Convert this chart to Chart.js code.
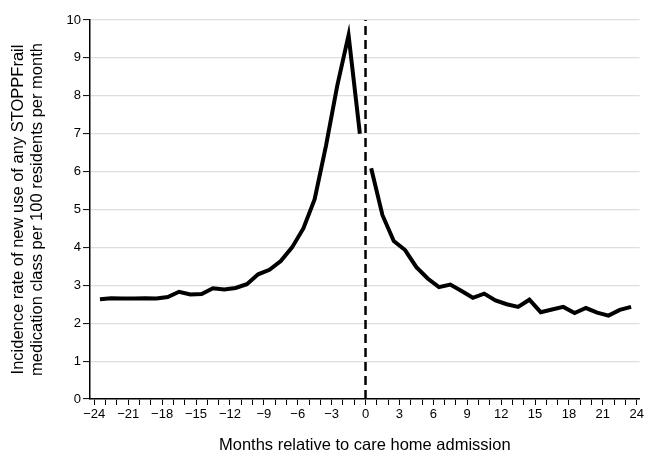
<!DOCTYPE html>
<html>
<head>
<meta charset="utf-8">
<script src="https://cdn.jsdelivr.net/npm/chart.js@4/dist/chart.umd.min.js"></script>
<style>
html,body{margin:0;padding:0;background:#fff;}
#wrap{width:646px;height:455px;position:relative;}
</style>
</head>
<body>
<div id="wrap"><canvas id="c" width="646" height="455"></canvas></div>
<script>
// Months relative to admission (mid-month points)
const preMonths = [-23.5,-22.5,-21.5,-20.5,-19.5,-18.5,-17.5,-16.5,-15.5,-14.5,-13.5,-12.5,-11.5,-10.5,-9.5,-8.5,-7.5,-6.5,-5.5,-4.5,-3.5,-2.5,-1.5,-0.5];
const preRates = [2.63,2.66,2.65,2.65,2.66,2.65,2.69,2.83,2.76,2.77,2.92,2.89,2.93,3.03,3.29,3.41,3.64,4.0,4.5,5.27,6.68,8.27,9.6,7.0];
const postMonths = [0.5,1.5,2.5,3.5,4.5,5.5,6.5,7.5,8.5,9.5,10.5,11.5,12.5,13.5,14.5,15.5,16.5,17.5,18.5,19.5,20.5,21.5,22.5,23.5];
const postRates = [6.09,4.85,4.17,3.93,3.48,3.18,2.95,3.02,2.85,2.67,2.78,2.6,2.5,2.43,2.62,2.29,2.36,2.43,2.27,2.40,2.28,2.20,2.35,2.43];
const xTicks = [];
for (let m = -24; m <= 24; m++) xTicks.push(m);
const yTicks = [0,1,2,3,4,5,6,7,8,9,10];
const admissionMonth = 0;
const xTitle = 'Months relative to care home admission';
const yTitle = ['Incidence rate of new use of any STOPPFrail', 'medication class per 100 residents per month'];

const toXY = (xs, ys) => xs.map((x, i) => ({x: x, y: ys[i]}));
const fontFam = '"Liberation Sans", Arial, sans-serif';

new Chart(document.getElementById('c'), {
  type: 'line',
  data: {
    datasets: [
      {data: toXY(preMonths, preRates), borderColor: '#000', borderWidth: 4, pointRadius: 0, tension: 0, borderJoinStyle: 'miter'},
      {data: toXY(postMonths, postRates), borderColor: '#000', borderWidth: 4, pointRadius: 0, tension: 0, borderJoinStyle: 'miter'},
      {data: [{x: admissionMonth, y: yTicks[0]}, {x: admissionMonth, y: yTicks[yTicks.length-1]}], borderColor: '#000', borderWidth: 2.5, borderDash: [9,5], pointRadius: 0}
    ]
  },
  options: {
    responsive: false,
    animation: false,
    layout: {padding: {top: 20, right: 4, left: 9, bottom: 0}},
    plugins: {legend: {display: false}, tooltip: {enabled: false}},
    scales: {
      x: {
        type: 'linear',
        min: -24.38,
        max: 24.25,
        afterBuildTicks: (s) => { s.ticks = xTicks.map(v => ({value: v})); },
        afterFit: (s) => { s.height = 56; },
        ticks: {
          autoSkip: false,
          maxRotation: 0,
          color: '#000',
          font: {family: fontFam, size: 13},
          padding: 2,
          callback: (v) => (v % 3 === 0 ? String(v).replace('-', '\u2212') : '')
        },
        grid: {drawOnChartArea: false, drawTicks: true, tickLength: 6, tickColor: '#000', tickWidth: 1},
        border: {color: '#000', width: 1.5},
        title: {display: true, text: xTitle, color: '#000', font: {family: fontFam, size: 16.5}, padding: {top: 14, bottom: 0}}
      },
      y: {
        min: 0,
        max: 10,
        afterBuildTicks: (s) => { s.ticks = yTicks.map(v => ({value: v})); },
        afterFit: (s) => { s.width = 81; },
        ticks: {color: '#000', font: {family: fontFam, size: 13}, padding: 2},
        grid: {color: '#dedede', lineWidth: 1.2, drawTicks: true, tickLength: 7, tickColor: '#000', tickWidth: 1},
        border: {color: '#000', width: 1.5},
        title: {display: true, text: yTitle, color: '#000', font: {family: fontFam, size: 16.5, lineHeight: 1.13}, padding: {top: 0, bottom: 0}}
      }
    }
  }
});
</script>
</body>
</html>
